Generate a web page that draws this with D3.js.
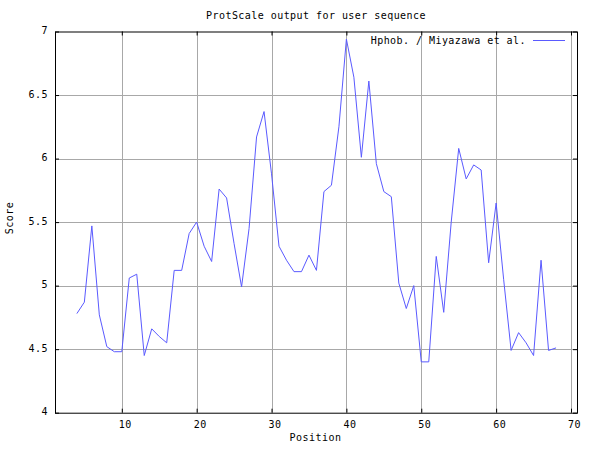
<!DOCTYPE html>
<html><head><meta charset="utf-8">
<script src="https://cdn.jsdelivr.net/npm/d3@7"></script>
<style>body{margin:0;background:#fff}svg{display:block}text{font-family:"DejaVu Sans Mono",monospace;font-size:10px;letter-spacing:0.45px;fill:#000}</style>
</head><body><svg id="c" width="600" height="451"></svg>
<script>
const positions = [4,5,6,7,8,9,10,11,12,13,14,15,16,17,18,19,20,21,22,23,24,25,26,27,28,29,30,31,32,33,34,35,36,37,38,39,40,41,42,43,44,45,46,47,48,49,50,51,52,53,54,55,56,57,58,59,60,61,62,63,64,65,66,67,68];
const scores = [4.78,4.87,5.47,4.77,4.52,4.48,4.48,5.06,5.09,4.45,4.66,4.60,4.55,5.12,5.12,5.41,5.50,5.31,5.19,5.76,5.69,5.33,4.99,5.45,6.17,6.37,5.88,5.31,5.20,5.11,5.11,5.24,5.12,5.74,5.79,6.25,6.94,6.64,6.01,6.61,5.96,5.74,5.70,5.02,4.82,5.00,4.40,4.40,5.23,4.79,5.50,6.08,5.84,5.95,5.91,5.18,5.65,5.05,4.49,4.63,4.55,4.45,5.20,4.49,4.51];
const xTicks = [10,20,30,40,50,60,70];
const yTicks = [4,4.5,5,5.5,6,6.5,7];
const title = "ProtScale output for user sequence";
const seriesName = "Hphob. / Miyazawa et al.";

const svg = d3.select("#c");
const L=55,R=577,T=31.5,B=412.7;
const x = d3.scaleLinear().domain([1.08,70.8]).range([L,R]);
const y = d3.scaleLinear().domain([4,7]).range([B,T]);

const g = svg.append("g");
// grid
g.selectAll(".vg").data(xTicks.filter(d=>x(d)<R-1)).enter().append("line")
 .attr("x1",d=>Math.round(x(d))+0.5).attr("x2",d=>Math.round(x(d))+0.5).attr("y1",T).attr("y2",B)
 .attr("stroke","#a8a8a8").attr("stroke-width",1);
g.selectAll(".hg").data(yTicks.filter(d=>d>4&&d<7)).enter().append("line")
 .attr("y1",d=>Math.round(y(d))+0.5).attr("y2",d=>Math.round(y(d))+0.5).attr("x1",L).attr("x2",R)
 .attr("stroke","#a8a8a8").attr("stroke-width",1);

// axes with inward ticks
const bx = d3.axisBottom(x).tickValues(xTicks).tickSize(-4).tickPadding(8).tickFormat(d3.format("d"));
const tx = d3.axisTop(x).tickValues(xTicks).tickSize(-4).tickFormat("");
const ly = d3.axisLeft(y).tickValues(yTicks).tickSize(-4).tickPadding(7).tickFormat(d=>String(d));
const ry = d3.axisRight(y).tickValues(yTicks).tickSize(-4).tickFormat("");
function styleAxis(sel){sel.select(".domain").remove();sel.selectAll("line").attr("stroke","#000");sel.selectAll("text").attr("font-family",null).attr("font-size",null).attr("fill","#000");}
svg.append("g").attr("transform",`translate(0,${B})`).call(bx).call(styleAxis).selectAll("text").attr("dx",3);
svg.append("g").attr("transform",`translate(0,${T})`).call(tx).call(styleAxis);
svg.append("g").attr("transform",`translate(${L},0)`).call(ly).call(styleAxis).selectAll("text").attr("dy","0.2em");
svg.append("g").attr("transform",`translate(${R},0)`).call(ry).call(styleAxis);

// frame
svg.append("rect").attr("x",L+0.5).attr("y",T+0.5).attr("width",R-L).attr("height",B-T)
 .attr("fill","none").attr("stroke","#000").attr("stroke-width",1);

// data line
const line = d3.line().x((d,i)=>x(positions[i])).y(d=>y(d));
svg.append("path").datum(scores).attr("d",line).attr("fill","none").attr("stroke","#5a5aff").attr("stroke-width",1);

// legend
svg.append("text").attr("x",526).attr("y",44).attr("text-anchor","end").text(seriesName);
svg.append("line").attr("x1",533).attr("x2",565).attr("y1",40.5).attr("y2",40.5).attr("stroke","#5a5aff").attr("stroke-width",1);

// titles
svg.append("text").attr("x",316).attr("y",19).attr("text-anchor","middle").text(title);
svg.append("text").attr("x",315.5).attr("y",441).attr("text-anchor","middle").text("Position");
svg.append("text").attr("transform","translate(13,218) rotate(-90)").attr("text-anchor","middle").text("Score");
</script></body></html>
